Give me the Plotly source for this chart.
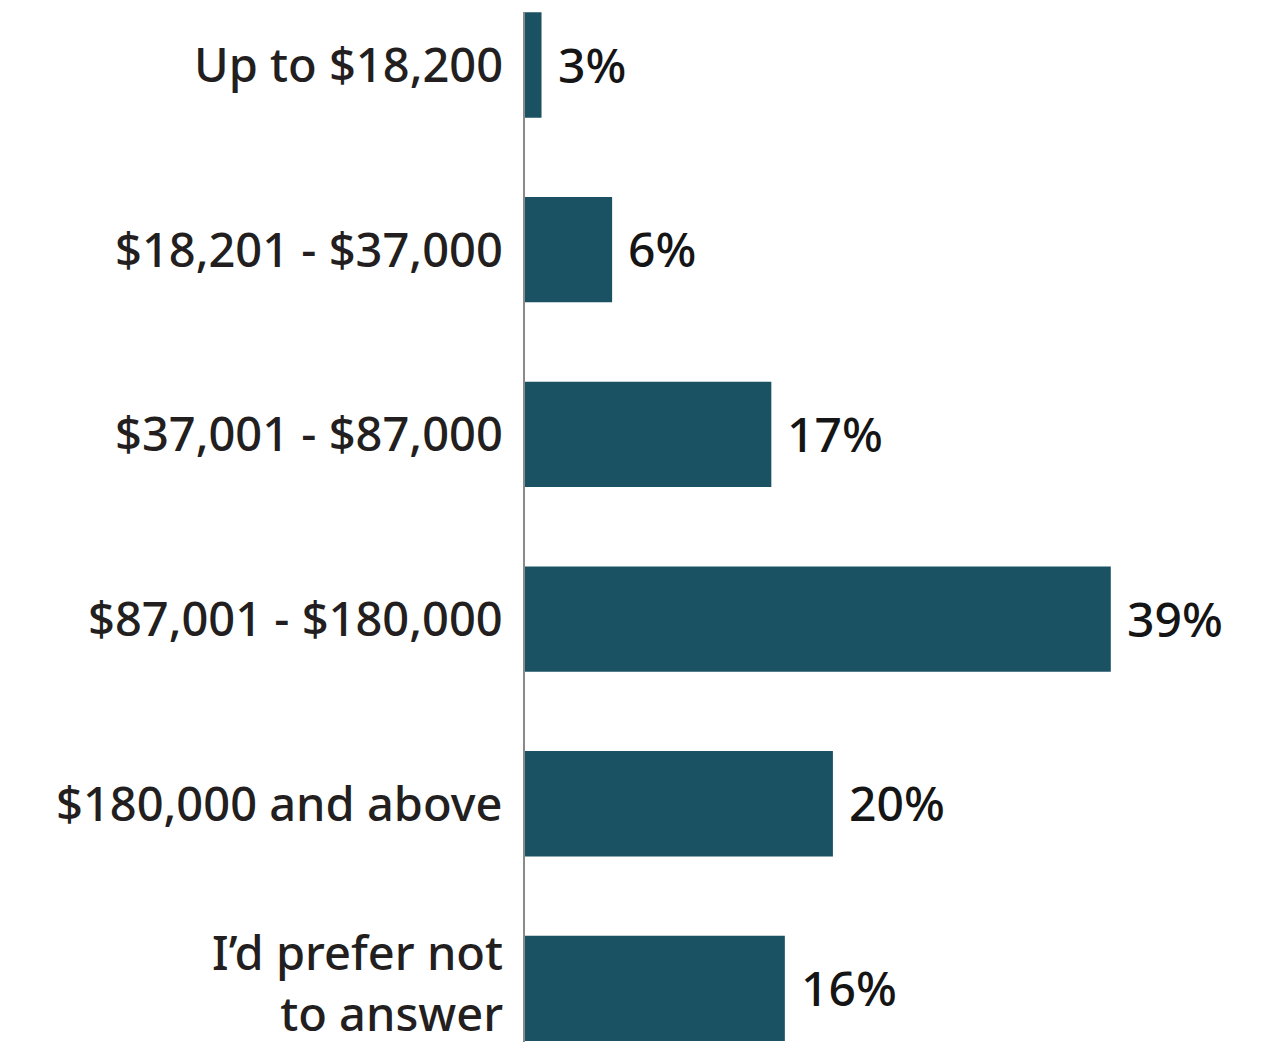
import plotly.graph_objects as go

# income bands, top to bottom
bands = ["Up to $18,200", "$18,201 - $37,000", "$37,001 - $87,000",
         "$87,001 - $180,000", "$180,000 and above", "I\u2019d prefer not<br>to answer"]
# bar lengths as drawn in the picture (percent)
lengths = [1.1, 5.8, 16.4, 39.0, 20.5, 17.3]
# printed labels
labels = ["3%", "6%", "17%", "39%", "20%", "16%"]

bar_color = "#1a5263"
text_color = "#231f20"
font_family = "'Noto Sans', Lato, sans-serif"

fig = go.Figure(go.Bar(
    x=lengths,
    y=bands,
    orientation="h",
    marker=dict(color=bar_color, line=dict(width=0)),
    width=0.57,
    hoverinfo="skip",
))

# value labels to the right of the bars
for band, val, lab in zip(bands, lengths, labels):
    fig.add_annotation(x=val, y=band, text=lab, showarrow=False,
                       xanchor="left", yanchor="middle", xshift=14, yshift=1,
                       font=dict(size=48, color="#151515", family=font_family, weight=500))

# category labels, right aligned against the axis
for band in bands:
    two_lines = "<br>" in band
    fig.add_annotation(x=0, xref="paper", y=band, text=band, showarrow=False,
                       xanchor="right", yanchor="middle", align="right",
                       xshift=-21, yshift=6 if two_lines else 1, borderpad=0,
                       font=dict(size=47, color=text_color, family=font_family, weight=500))

# page body adds an 8px margin, so the figure is 8px smaller than the window
fig.update_layout(
    template="none",
    width=1259, height=1034,
    margin=dict(l=517, r=0, t=4, b=0, autoexpand=False),
    paper_bgcolor="white", plot_bgcolor="white",
    showlegend=False,
    font=dict(family=font_family, color=text_color, size=47),
    xaxis=dict(range=[0, 49.4], visible=False, fixedrange=True, automargin=False),
    yaxis=dict(
        type="category",
        range=[5.29, -0.287],
        showline=True, linecolor="#8a8a8a", linewidth=2,
        showgrid=False, zeroline=False, ticks="", showticklabels=False,
        automargin=False, fixedrange=True,
    ),
)

fig.write_html("out.html")
